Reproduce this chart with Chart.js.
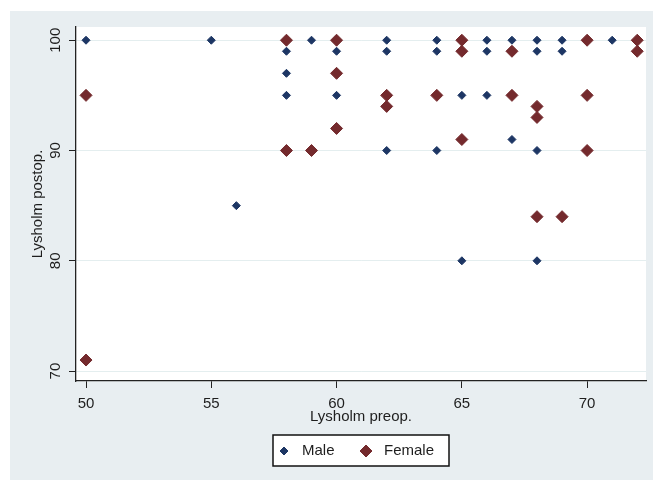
<!DOCTYPE html>
<html>
<head>
<meta charset="utf-8">
<script src="https://cdn.jsdelivr.net/npm/chart.js@4.4.1/dist/chart.umd.min.js"></script>
<style>
  html, body { margin: 0; padding: 0; background: #fff; }
  canvas { display: block; }
</style>
</head>
<body>
<canvas id="chart" width="653" height="480"></canvas>
<script>
// --- Data ---
const xTicks = [50, 55, 60, 65, 70];
const yTicks = [70, 80, 90, 100];

const maleX = [50, 55, 56, 58, 58, 58, 59, 60, 60, 62, 62, 62, 64, 64, 64, 65, 65, 66, 66, 66, 67, 67, 68, 68, 68, 68, 69, 69, 71];
const maleY = [100, 100, 85, 99, 97, 95, 100, 99, 95, 100, 99, 90, 100, 99, 90, 95, 80, 100, 99, 95, 100, 91, 100, 99, 90, 80, 100, 99, 100];

const femaleX = [50, 50, 58, 58, 59, 60, 60, 60, 62, 62, 64, 65, 65, 65, 67, 67, 68, 68, 68, 69, 70, 70, 70, 72, 72];
const femaleY = [95, 71, 100, 90, 90, 100, 97, 92, 95, 94, 95, 100, 99, 91, 99, 95, 94, 93, 84, 84, 100, 95, 90, 100, 99];

const NAVY = '#1d3664';
const MAROON = '#742a2d';
const TEXT = '#1e1e1e';
const FONT = 'Liberation Sans, Arial, sans-serif';

const toPoints = (xs, ys) => xs.map((x, i) => ({ x: x, y: ys[i] }));

// gray outer panel + white plot region
const panelPlugin = {
    id: 'panel',
    beforeDraw(chart) {
        const { ctx, chartArea: a } = chart;
        ctx.save();
        ctx.fillStyle = '#fff';
        ctx.fillRect(0, 0, chart.width, chart.height);
        ctx.fillStyle = '#e8eef1';
        ctx.fillRect(10, 11, chart.width - 10, chart.height - 11);
        ctx.fillStyle = '#fff';
        ctx.fillRect(a.left, a.top, a.right - a.left, a.bottom - a.top);
        ctx.restore();
    }
};

// vertical y tick labels (Stata style) and the boxed legend
const extrasPlugin = {
    id: 'extras',
    afterDraw(chart) {
        const { ctx } = chart;
        const y = chart.scales.y;
        ctx.save();
        ctx.font = '15px ' + FONT;
        ctx.fillStyle = TEXT;
        ctx.textAlign = 'center';
        ctx.textBaseline = 'middle';
        yTicks.forEach(v => {
            ctx.save();
            ctx.translate(56, y.getPixelForValue(v));
            ctx.rotate(-Math.PI / 2);
            ctx.fillText(String(v), 0, 0);
            ctx.restore();
        });

        // legend box
        ctx.fillStyle = '#fff';
        ctx.fillRect(273, 435, 176, 31);
        ctx.strokeStyle = '#111';
        ctx.lineWidth = 1.5;
        ctx.strokeRect(273, 435, 176, 31);

        const items = [
            { ds: chart.data.datasets[0], mx: 284, tx: 302 },
            { ds: chart.data.datasets[1], mx: 366, tx: 384 }
        ];
        items.forEach(it => {
            ctx.fillStyle = it.ds.backgroundColor;
            ctx.strokeStyle = it.ds.borderColor;
            ctx.lineWidth = 1;
            Chart.helpers.drawPoint(ctx, {
                pointStyle: 'rectRot',
                radius: it.ds.pointRadius,
                rotation: 0,
                borderWidth: 1
            }, it.mx, 451);
            ctx.fillStyle = TEXT;
            ctx.textAlign = 'left';
            ctx.textBaseline = 'middle';
            ctx.fillText(it.ds.label, it.tx, 451);
        });
        ctx.restore();
    }
};

new Chart(document.getElementById('chart'), {
    type: 'scatter',
    data: {
        datasets: [
            {
                label: 'Male',
                data: toPoints(maleX, maleY),
                pointStyle: 'rectRot',
                pointRadius: 4,
                backgroundColor: NAVY,
                borderColor: NAVY,
                borderWidth: 1,
                order: 1
            },
            {
                label: 'Female',
                data: toPoints(femaleX, femaleY),
                pointStyle: 'rectRot',
                pointRadius: 6,
                backgroundColor: MAROON,
                borderColor: MAROON,
                borderWidth: 1,
                order: 0
            }
        ]
    },
    options: {
        responsive: false,
        animation: false,
        events: [],
        layout: {
            padding: { left: 0, top: 27, right: 6, bottom: 0 }
        },
        plugins: {
            legend: { display: false },
            tooltip: { enabled: false }
        },
        scales: {
            x: {
                type: 'linear',
                min: 49.6,
                max: 72.35,
                afterBuildTicks: s => { s.ticks = xTicks.map(v => ({ value: v })); },
                afterFit: s => { s.height = 99; },
                grid: {
                    drawOnChartArea: false,
                    tickColor: '#222',
                    tickLength: 7
                },
                border: { color: '#222', width: 1.3 },
                ticks: {
                    font: { family: FONT, size: 15 },
                    color: TEXT,
                    padding: 7,
                    maxRotation: 0
                },
                title: {
                    display: true,
                    text: 'Lysholm preop.',
                    font: { family: FONT, size: 15 },
                    color: TEXT,
                    padding: { top: 0, bottom: 54 }
                }
            },
            y: {
                type: 'linear',
                min: 69.1,
                max: 101.2,
                afterBuildTicks: s => { s.ticks = yTicks.map(v => ({ value: v })); },
                afterFit: s => { s.width = 76; },
                grid: {
                    color: '#e4eeef',
                    lineWidth: 1,
                    tickColor: '#222',
                    tickLength: 7
                },
                border: { color: '#222', width: 1.3 },
                ticks: { display: false },
                title: {
                    display: true,
                    text: 'Lysholm postop.',
                    font: { family: FONT, size: 15 },
                    color: TEXT,
                    padding: { top: 28.5, bottom: 0 }
                }
            }
        }
    },
    plugins: [panelPlugin, extrasPlugin]
});
</script>
</body>
</html>
